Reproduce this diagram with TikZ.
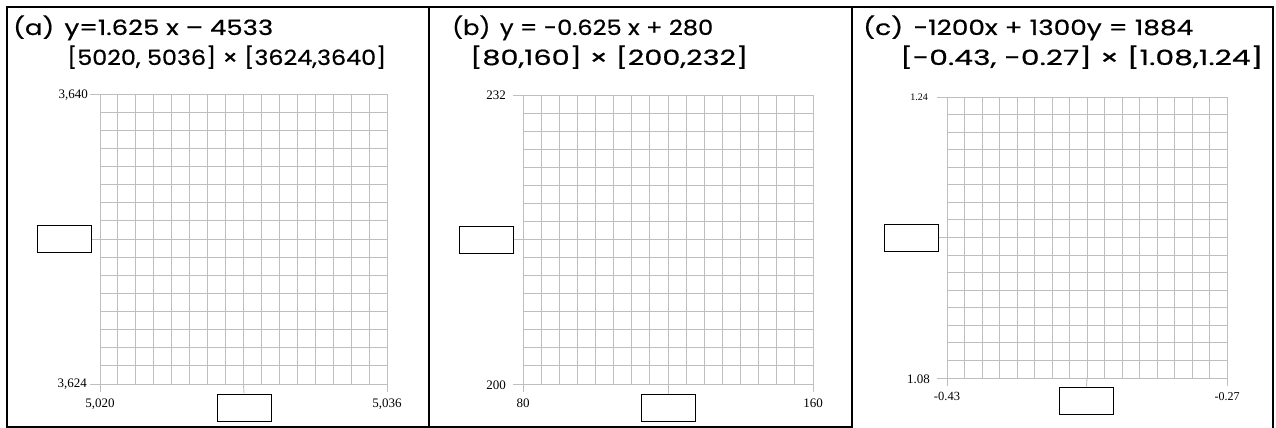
\documentclass[tikz,border=0pt]{standalone}
\usepackage{fontspec}
\usepackage{graphicx}
\newfontfamily\ttlfont[FakeBold=0.6]{Poppins}
\newfontfamily\tickfont{Liberation Serif}
\definecolor{gridgray}{RGB}{190,190,190}
\newcommand{\ttl}[2]{\resizebox{#1pt}{\height}{\ttlfont\fontsize{21}{24}\selectfont #2}}
\newcommand{\plotgrid}[4]{%
  \foreach \i in {0,...,16}{%
    \draw[gridline] ({#1+(#3-#1)*\i/16},#2) -- ({#1+(#3-#1)*\i/16},#4);
    \draw[gridline] (#1,{#2+(#4-#2)*\i/16}) -- (#3,{#2+(#4-#2)*\i/16});
  }%
  \draw[gridline] (#1-10,#2) -- (#1,#2);
  \draw[gridline] (#1-10,#4) -- (#1,#4);
  \draw[gridline] (#1,#4) -- (#1,#4+8);
  \draw[gridline] (#3,#4) -- (#3,#4+8);
}
\begin{document}
\begin{tikzpicture}[x=1pt,y=-1pt,
  frame/.style={line width=2.2pt, line cap=rect},
  gridline/.style={draw=gridgray, line width=0.9pt},
  ansbox/.style={draw, line width=1pt, minimum width=54pt, minimum height=27pt, inner sep=0pt, fill=white},
  ttlnode/.style={anchor=base west, inner sep=0pt},
  ticklab/.style={inner sep=0pt, font={\tickfont\fontsize{#1}{#1}\selectfont}},
  ticklab/.default=13]
\useasboundingbox (0,0) rectangle (1276,428);
% frames
\draw[frame] (7,427) -- (7,7) -- (1273,7) -- (1273,428);
\draw[frame] (7,427) -- (852,427);
\draw[frame] (429,7) -- (429,427);
\draw[frame] (852,7) -- (852,428);

% ---------- panel (a)
\node[ttlnode] (ta1) at (13,35) {\ttl{260}{(a)\hspace{0.4em}y=1.625 x – 4533}};
\node[ttlnode] (ta2) at (67,65) {\ttl{319}{[5020, 5036] × [3624,3640]}};
\plotgrid{100}{94}{387}{384}
\node[ticklab=13, anchor=east] (la1) at (88,95) {3,640};
\node[ticklab=13, anchor=east] (la2) at (87,384) {3,624};
\node[ticklab=13, anchor=base] (la3) at (100,407) {5,020};
\node[ticklab=13, anchor=base] (la4) at (387,407) {5,036};
\node[ansbox] (ay) at (64,239) {};
\node[ansbox] (ax) at (244,407.5) {};
\coordinate (ayg) at (100,239);
\coordinate (axg) at (243.5,384);
\draw[gridline] (ay.east) -- (ayg);
\draw[gridline] (axg) -- (ax.north);

% ---------- panel (b)
\node[ttlnode] (tb1) at (452,35) {\ttl{261}{(b)\hspace{0.4em}y = -0.625 x + 280}};
\node[ttlnode] (tb2) at (470,65) {\ttl{278}{[80,160] × [200,232]}};
\plotgrid{523}{95}{813}{384}
\node[ticklab=13, anchor=east] (lb1) at (506,95) {232};
\node[ticklab=13, anchor=east] (lb2) at (506,385) {200};
\node[ticklab=13, anchor=base] (lb3) at (523,407) {80};
\node[ticklab=13, anchor=base] (lb4) at (813,407) {160};
\node[ansbox] (by) at (486.5,239.5) {};
\node[ansbox] (bx) at (668,407.5) {};
\coordinate (byg) at (523,239.5);
\coordinate (bxg) at (668,384);
\draw[gridline] (by.east) -- (byg);
\draw[gridline] (bxg) -- (bx.north);

% ---------- panel (c)
\node[ttlnode] (tc1) at (863,35) {\ttl{330}{(c)\hspace{0.4em}-1200x + 1300y = 1884}};
\node[ttlnode] (tc2) at (900,65) {\ttl{363}{[-0.43, -0.27] × [1.08,1.24]}};
\plotgrid{947}{97}{1227}{378}
\node[ticklab=10, anchor=east] (lc1) at (928,97) {1.24};
\node[ticklab=13, anchor=east] (lc2) at (930,379) {1.08};
\node[ticklab=12.5, anchor=base] (lc3) at (947,400) {-0.43};
\node[ticklab=12, anchor=base] (lc4) at (1227,400) {-0.27};
\node[ansbox] (cy) at (911.5,237.5) {};
\node[ansbox] (cx) at (1086.5,400.5) {};
\coordinate (cyg) at (947,237.5);
\coordinate (cxg) at (1087,378);
\draw[gridline] (cy.east) -- (cyg);
\draw[gridline] (cxg) -- (cx.north);
\end{tikzpicture}
\end{document}
